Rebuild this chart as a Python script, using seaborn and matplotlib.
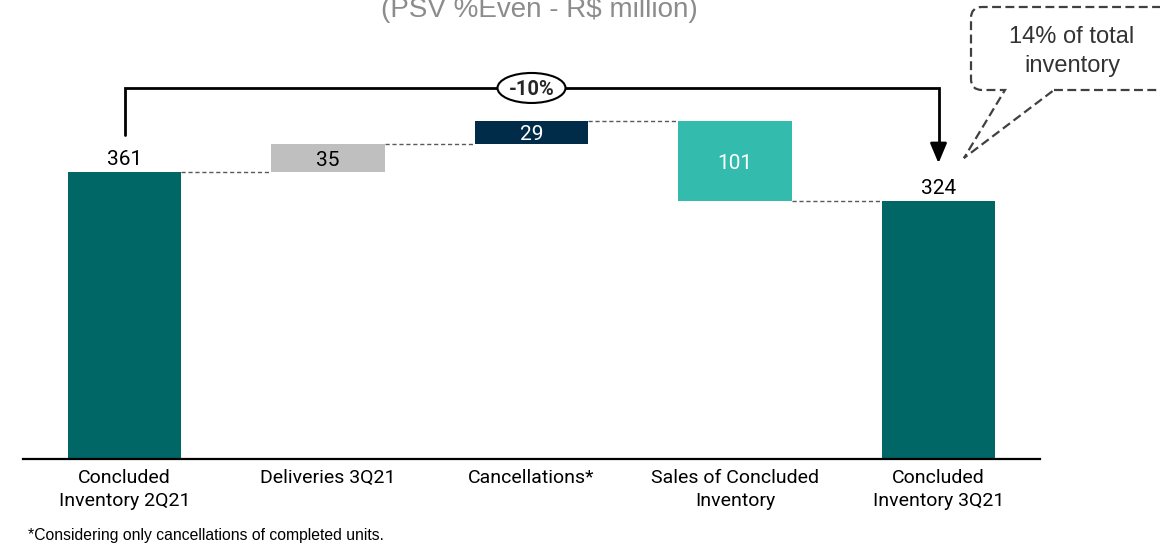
import numpy as np
import pandas as pd
import matplotlib
matplotlib.use("Agg")
import matplotlib.pyplot as plt
import seaborn as sns
from matplotlib.patches import Ellipse, PathPatch
from matplotlib.path import Path

#----------- data -----------
categories = ["Concluded\nInventory 2Q21", "Deliveries 3Q21", "Cancellations*",
              "Sales of Concluded\nInventory", "Concluded\nInventory 3Q21"]
values = [361, 35, 29, -101, 324]
kinds = ["total", "step", "step", "step", "total"]
bar_colors = ["#006666", "#BFBFBF", "#002B49", "#33BBAD", "#006666"]
label_colors = ["black", "black", "white", "white", "black"]
title = "(PSV %Even - R$ million)"
note = "*Considering only cancellations of completed units."
callout = ["14% of total", "inventory"]

#----------- waterfall geometry from the values -----------
bottoms, heights, ends = [], [], []
run = 0
for v, k in zip(values, kinds):
    if k == "total":
        bottoms.append(0)
        heights.append(v)
        run = v
    else:
        bottoms.append(min(run, run + v))
        heights.append(abs(v))
        run += v
    ends.append(run)

df = pd.DataFrame({"cat": categories, "height": heights, "bottom": bottoms})

sns.set_style("white")
plt.rcParams["font.family"] = ["Roboto", "DejaVu Sans"]

W, H = 1160, 547
fig = plt.figure(figsize=(W / 100, H / 100), dpi=100)
ax = fig.add_axes([22.75 / W, 1 - 459 / H, 1017.5 / W, 459 / H])

bw = 0.556
sns.barplot(data=df, x="cat", y="height", hue="cat", palette=bar_colors,
            width=bw, saturation=1, legend=False, ax=ax, edgecolor="none")
for p, b in zip(ax.patches, bottoms):
    p.set_y(b)

ax.set_xlim(-0.5, 4.5)
ax.set_ylim(0, 459 / 0.795)
sns.despine(ax=ax, left=True)
ax.spines["bottom"].set_color("black")
ax.spines["bottom"].set_linewidth(1.6)
ax.set_yticks([])
ax.set_xlabel("")
ax.set_ylabel("")
ax.tick_params(axis="x", length=0, pad=7.5, labelsize=14, labelcolor="black")
for lbl in ax.get_xticklabels():
    lbl.set_linespacing(1.3)

# value labels
for i, (k, v) in enumerate(zip(kinds, values)):
    if k == "total":
        ax.annotate(f"{abs(v)}", (i, v), xytext=(0, 5), textcoords="offset points",
                    ha="center", va="baseline", fontsize=15, color=label_colors[i])
    else:
        ax.text(i, bottoms[i] + heights[i] / 2, f"{abs(v)}", ha="center",
                va="center_baseline", fontsize=15, color=label_colors[i])

# dashed connectors between bars
for i in range(len(values) - 1):
    ax.plot([i + bw / 2, i + 1 - bw / 2], [ends[i], ends[i]], color="#595959",
            lw=1, ls=(0, (3, 2)))

# bracket with total change
top = 466.7
ax.plot([0, 0, 4, 4], [407.5, top, top, 385], color="black", lw=2,
        solid_joinstyle="miter", clip_on=False)
ax.annotate("", xy=(4, 372), xytext=(4, 390),
            arrowprops=dict(arrowstyle="-|>,head_length=1.0,head_width=0.42",
                            mutation_scale=12, color="black", lw=2,
                            shrinkA=0, shrinkB=0))
ax.add_patch(Ellipse((2, top), 68 / 203.5, 30 / 0.795, fc="white", ec="black",
                     lw=1.5, zorder=5))
pct = (values[-1] / values[0] - 1) * 100
ax.text(2, top, f"{pct:.0f}%", ha="center", va="center_baseline", fontsize=14.5,
        fontweight="bold", zorder=6)

# title and footnote
fig.text(539.5 / W, 1 - 17 / H, title, ha="center", va="baseline", fontsize=20,
         color="#8C8C8C", family="Liberation Sans")
fig.text(28 / W, 1 - 540 / H, note, ha="left", va="baseline", fontsize=11.3,
         color="black", family="Liberation Sans")

# dashed callout box
def fp(x, y):
    return (x / W, 1 - y / H)

L, T, B, R, r = 971, 7, 90, 1175, 11
x1, x2, tip = 1005, 1054, (964, 158)
verts = [fp(x2, B), fp(R, B), fp(R, T), fp(L + r, T), fp(L, T), fp(L, T + r),
         fp(L, B - r), fp(L, B), fp(L + r, B), fp(x1, B), fp(*tip), fp(x2, B)]
codes = [Path.MOVETO, Path.LINETO, Path.LINETO, Path.LINETO, Path.CURVE3, Path.CURVE3,
         Path.LINETO, Path.CURVE3, Path.CURVE3, Path.LINETO, Path.LINETO, Path.LINETO]
fig.patches.append(PathPatch(Path(verts, codes), transform=fig.transFigure,
                             fill=False, ec="#404040", lw=1.6, ls=(0, (4, 2)),
                             clip_on=False))
fig.text(1072 / W, 1 - 43 / H, callout[0], ha="center", va="baseline", fontsize=17,
         color="#333333", family="Liberation Sans")
fig.text(1072 / W, 1 - 72 / H, callout[1], ha="center", va="baseline", fontsize=17,
         color="#333333", family="Liberation Sans")

fig.savefig("out.png", dpi=100)
plt.close()
